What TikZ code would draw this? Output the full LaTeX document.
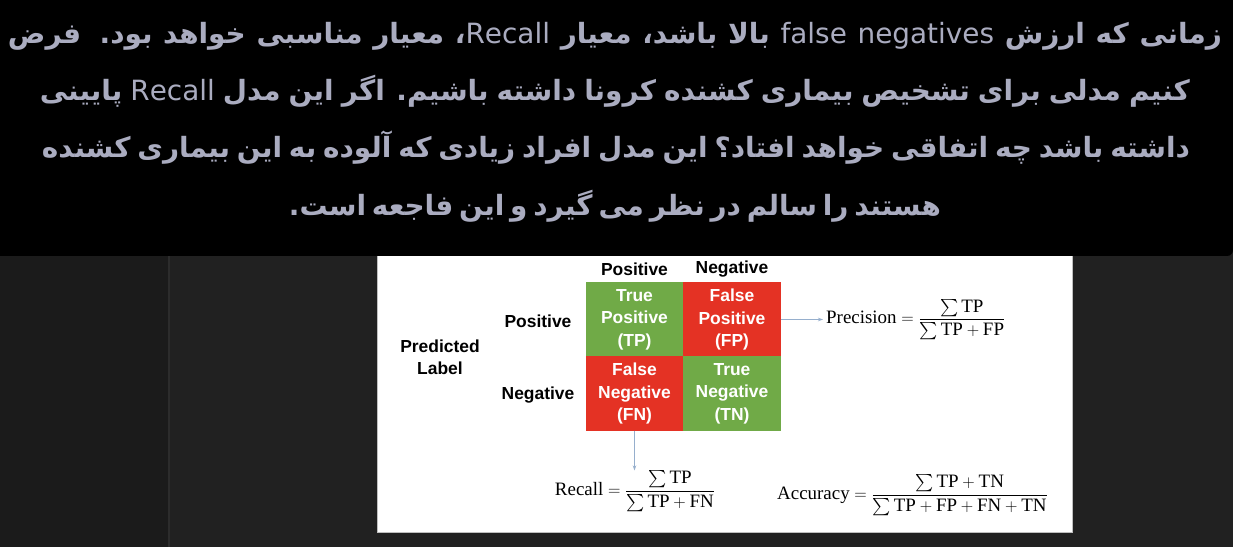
\documentclass[tikz,border=0pt]{standalone}
\usepackage{amsmath}
\usepackage{fontspec}
\setmainfont{Liberation Serif}
\newfontfamily\arabicfont[Script=Arabic]{DejaVu Sans}
\newfontfamily\cellfont{Liberation Sans}
\TeXXeTstate=1
\usetikzlibrary{positioning,arrows.meta}

\definecolor{captiongray}{RGB}{170,172,192}
\definecolor{screengray}{RGB}{33,33,33}
\definecolor{panelgray}{RGB}{27,27,27}
\definecolor{seamgray}{RGB}{44,44,44}
\definecolor{tpgreen}{RGB}{112,170,71}
\definecolor{fnred}{RGB}{228,50,36}
\definecolor{linkblue}{RGB}{150,175,205}

% one caption line, spread to a given width
\newcommand{\capline}[2]{\hbox to #1{\spaceskip=0.3em plus 1fil minus 1fil#2}}

\begin{document}
\begin{tikzpicture}[
  x=1bp, y=-1bp,
  caption/.style={text=captiongray, font=\arabicfont\bfseries\fontsize{28}{34}\selectfont, inner sep=0, anchor=base},
  cell/.style={rectangle, minimum width=97.5bp, minimum height=74bp, inner sep=0, outer sep=0, text=white, align=center, font=\cellfont\bfseries\fontsize{17.5}{22.5}\selectfont},
  axislabel/.style={text=black, align=center, inner sep=0, font=\cellfont\bfseries\fontsize{17.5}{22}\selectfont},
  formula/.style={inner sep=0, font=\fontsize{19}{22}\selectfont},
  link/.style={-{Stealth[length=5bp,width=3.5bp]}, line width=0.8bp, draw=linkblue},
]
  \useasboundingbox (0,0) rectangle (1233,547);

  % Screen background
  \fill[screengray] (0,0) rectangle (1233,547);
  \fill[panelgray] (0,256) rectangle (168,547);
  \draw[seamgray, line width=1.5bp] (169,256) -- (169,547);
  \fill[black, rounded corners=6bp] (-10,-10) rectangle (1233,256);

  % Caption lines
  \node[caption] (line1) at (615,44) {\capline{1214bp}{\beginR زمانی که ارزش \beginL{\mdseries false negatives}\endL{} بالا باشد، معیار \beginL{\mdseries Recall}\endL{}، معیار مناسبی خواهد بود. فرض\endR}};
  \node[caption] (line2) at (615,101) {\capline{1150bp}{\beginR کنیم مدلی برای تشخیص بیماری کشنده کرونا داشته باشیم. اگر این مدل \beginL{\mdseries Recall}\endL{} پایینی\endR}};
  \node[caption] (line3) at (616,158) {\capline{1148bp}{\beginR داشته باشد چه اتفاقی خواهد افتاد؟ این مدل افراد زیادی که آلوده به این بیماری کشنده\endR}};
  \node[caption] (line4) at (615,216) {\capline{652bp}{\beginR هستند را سالم در نظر می گیرد و این فاجعه است.\endR}};

  % Slide
  \fill[white] (377,256) rectangle (1072,532);
  \draw[gray!50, line width=1bp] (377,256) -- (377,532) -- (1072,532) -- (1072,256);

  % Confusion matrix
  \node[cell, fill=tpgreen] (tp) at (634.5,319.5) {True\\Positive\\(TP)};
  \node[cell, fill=fnred, right=0pt of tp] (fp) {False\\Positive\\(FP)};
  \node[cell, fill=fnred, below=0pt of tp] (fn) {False\\Negative\\(FN)};
  \node[cell, fill=tpgreen, right=0pt of fn] (tn) {True\\Negative\\(TN)};

  % Axis labels
  \node[axislabel] (colpos) at (634.5,269) {Positive};
  \node[axislabel] (colneg) at (732,269) {Negative};
  \node[axislabel] (rowpos) at (538,321) {Positive};
  \node[axislabel] (rowneg) at (538,395) {Negative};
  \node[axislabel] (predlabel) at (440,357) {Predicted\\Label};

  % Formulas
  \node[formula, anchor=west] (prec) at (826,319.5) {$\displaystyle \text{Precision} = \frac{\sum \text{TP}}{\sum \text{TP} + \text{FP}}$};
  \node[formula] (recall) at (635,491) {$\displaystyle \text{Recall} = \frac{\sum \text{TP}}{\sum \text{TP} + \text{FN}}$};
  \node[formula] (accuracy) at (912.5,495) {$\displaystyle \text{Accuracy} = \frac{\sum \text{TP} + \text{TN}}{\sum \text{TP} + \text{FP} + \text{FN} + \text{TN}}$};

  % Arrows
  \draw[link, shorten >=3bp] (fp.east) -- (prec.west);
  \draw[link] (fn.south) -- (fn.south |- recall.north);
\end{tikzpicture}
\end{document}
